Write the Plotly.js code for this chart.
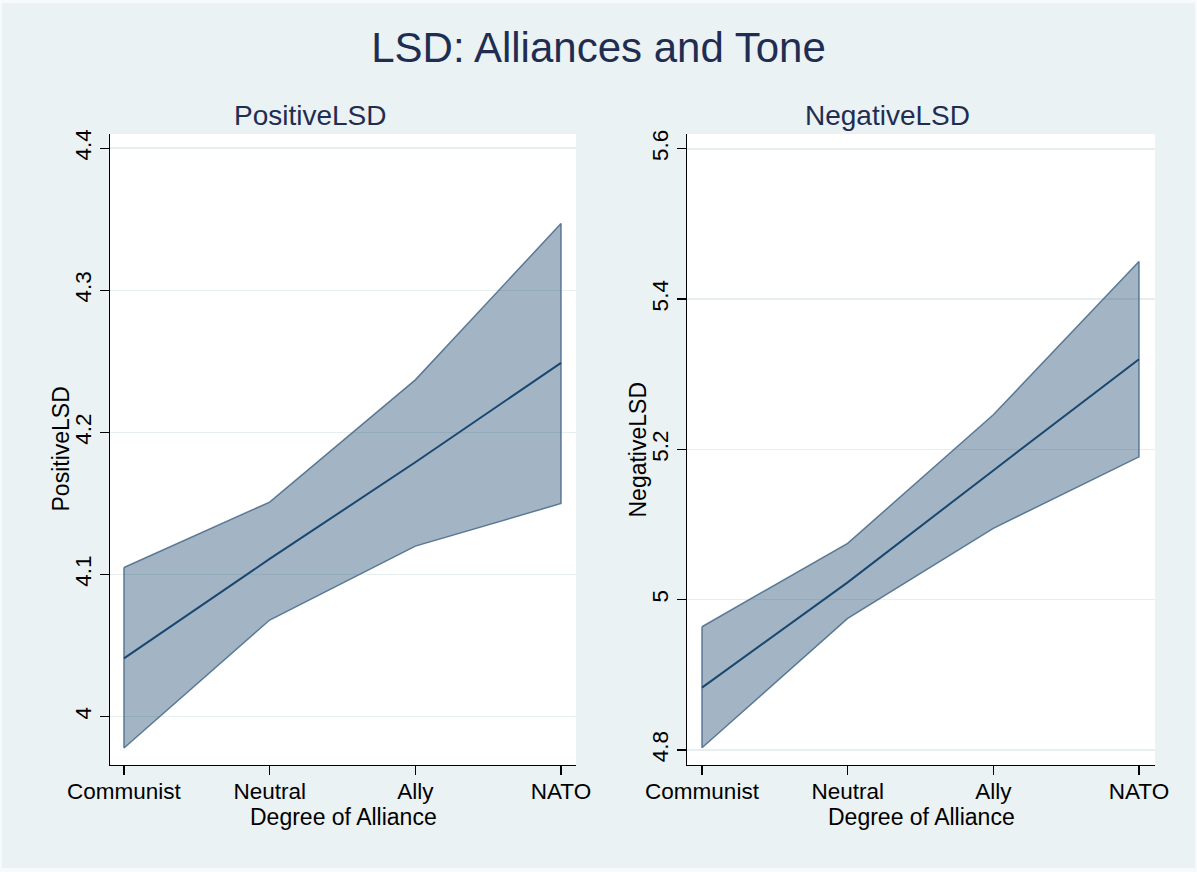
<!DOCTYPE html>
<html>
<head>
<meta charset="utf-8">
<script src="https://cdn.plot.ly/plotly-3.0.1.min.js"></script>
<style>html,body{margin:0;padding:0;background:#EAF2F3;}#chart{width:1197px;height:872px;}</style>
</head>
<body>
<div id="chart"></div>
<script>
const categories = ['Communist', 'Neutral', 'Ally', 'NATO'];

const posMean  = [4.041, 4.111, 4.179, 4.249];
const posUpper = [4.105, 4.151, 4.237, 4.347];
const posLower = [3.978, 4.068, 4.120, 4.150];

const negMean  = [4.883, 5.023, 5.172, 5.320];
const negUpper = [4.964, 5.075, 5.246, 5.450];
const negLower = [4.803, 4.975, 5.095, 5.190];

const posTicks = [4, 4.1, 4.2, 4.3, 4.4];
const posTickText = ['4', '4.1', '4.2', '4.3', '4.4'];
const negTicks = [4.8, 5, 5.2, 5.4, 5.6];
const negTickText = ['4.8', '5', '5.2', '5.4', '5.6'];

const mainTitle = 'LSD: Alliances and Tone';
const panelTitles = ['PositiveLSD', 'NegativeLSD'];
const xTitle = 'Degree of Alliance';

const W = 1197, H = 872;
const FONT = 'Liberation Sans, Arial, sans-serif';
const NAVY = '#1A476F';
const TITLE_COLOR = '#1F2D52';

const idx = categories.map((c, i) => i);

function band(upper, lower, xa, ya) {
  const xs = idx.concat(idx.slice().reverse()).concat([idx[0]]);
  const ys = upper.concat(lower.slice().reverse()).concat([upper[0]]);
  return {
    x: xs, y: ys, xaxis: xa, yaxis: ya, type: 'scatter', mode: 'lines',
    fill: 'toself', fillcolor: 'rgba(26,71,111,0.40)',
    line: {color: 'rgba(70,104,136,0.85)', width: 1.5},
    hoverinfo: 'skip', showlegend: false
  };
}
function meanLine(vals, xa, ya) {
  return {
    x: idx, y: vals, xaxis: xa, yaxis: ya, type: 'scatter', mode: 'lines',
    line: {color: NAVY, width: 2}, showlegend: false
  };
}

const traces = [
  band(posUpper, posLower, 'x', 'y'),
  meanLine(posMean, 'x', 'y'),
  band(negUpper, negLower, 'x2', 'y2'),
  meanLine(negMean, 'x2', 'y2')
];

const yDom = [(H - 765) / H, (H - 134) / H];

function xAxis(domain, range) {
  return {
    domain: domain, range: range, tickmode: 'array', tickvals: idx, ticktext: categories,
    showline: true, linecolor: '#000', linewidth: 1.3, ticks: 'outside', ticklen: 9,
    tickcolor: '#000', tickwidth: 1.3, showgrid: false, zeroline: false,
    ticklabelstandoff: -3,
    tickfont: {family: FONT, size: 22.5, color: '#000'},
    automargin: false, fixedrange: true
  };
}
function yAxis(domain, range, tv, tt, anchor) {
  return {
    domain: domain, range: range, anchor: anchor, tickmode: 'array', tickvals: tv, ticktext: tt,
    tickangle: -90, showline: true, linecolor: '#000', linewidth: 1.3,
    ticks: 'outside', ticklen: 9, tickcolor: '#000', tickwidth: 1.3,
    showgrid: true, gridcolor: '#E6EEF0', gridwidth: 1.5, zeroline: false,
    tickfont: {family: FONT, size: 22.5, color: '#000'},
    automargin: false, fixedrange: true
  };
}

function label(text, xpx, ypx, size, color, angle) {
  return {text: text, xref: 'paper', yref: 'paper', x: xpx / W, y: 1 - ypx / H,
          xanchor: 'center', yanchor: 'middle', showarrow: false, textangle: angle || 0,
          font: {family: FONT, size: size, color: color}};
}

const edge = '#F6FAFA';
function edgeRect(x0, y0, x1, y1) {
  return {type: 'rect', xref: 'paper', yref: 'paper', x0: x0 / W, x1: x1 / W,
          y0: 1 - y1 / H, y1: 1 - y0 / H, fillcolor: edge, line: {width: 0}, layer: 'above'};
}

const layout = {
  width: W, height: H,
  paper_bgcolor: '#EAF2F3', plot_bgcolor: '#FFFFFF',
  margin: {l: 0, r: 0, t: 0, b: 0},
  showlegend: false,
  title: {text: mainTitle, x: 0.5, xanchor: 'center', y: 1 - 47 / H, yanchor: 'middle',
          font: {family: FONT, size: 42, color: TITLE_COLOR}},
  xaxis: Object.assign(xAxis([110 / W, 576 / W], [-0.096, 3.103]), {anchor: 'y'}),
  yaxis: yAxis(yDom, [3.966, 4.410], posTicks, posTickText, 'x'),
  xaxis2: Object.assign(xAxis([687 / W, 1155 / W], [-0.103, 3.11]), {anchor: 'y2'}),
  yaxis2: yAxis(yDom, [4.780, 5.6197], negTicks, negTickText, 'x2'),
  annotations: [
    label(panelTitles[0], 310, 115.7, 28, TITLE_COLOR),
    label(panelTitles[1], 887, 115.7, 28, TITLE_COLOR),
    label(panelTitles[0], 60, 449.5, 23, '#000', -90),
    label(panelTitles[1], 637, 449.5, 23, '#000', -90),
    label(xTitle, 343, 817, 23, '#000'),
    label(xTitle, 921, 817, 23, '#000')
  ],
  shapes: [
    edgeRect(0, 0, W, 3),
    edgeRect(0, 868, W, H),
    edgeRect(0, 0, 2, H),
    edgeRect(1195, 0, W, H)
  ]
};

Plotly.newPlot('chart', traces, layout, {displayModeBar: false, staticPlot: true});
</script>
</body>
</html>
